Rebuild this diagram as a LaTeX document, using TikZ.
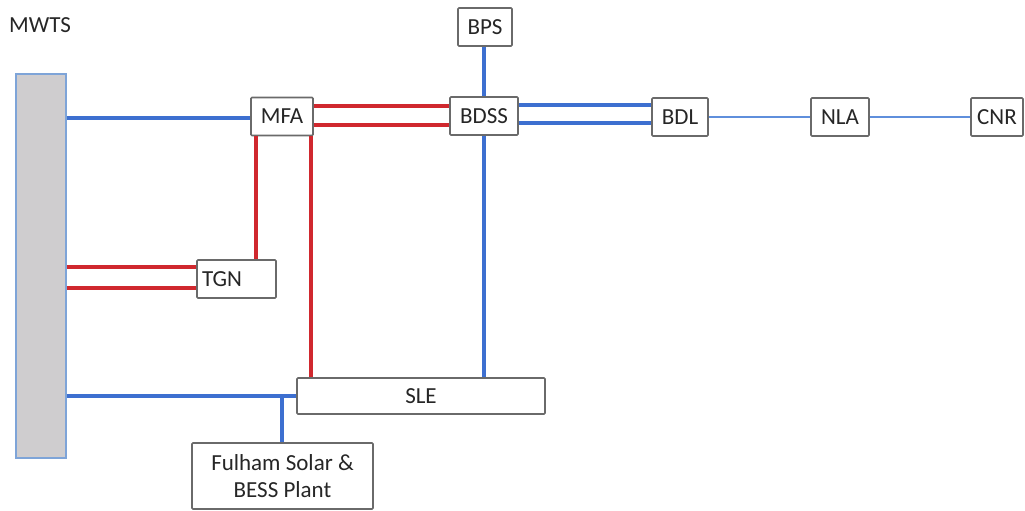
\documentclass[tikz,border=0pt]{standalone}
\usepackage{fontspec}
\setmainfont{Carlito}
\definecolor{lblue}{HTML}{3D6FD0}
\definecolor{tblue}{HTML}{5F8FDC}
\definecolor{lred}{HTML}{D0282E}
\definecolor{boxgray}{HTML}{6A6A6A}
\definecolor{barfill}{HTML}{CFCDCF}
\definecolor{barline}{HTML}{7EA4D8}
\definecolor{txt}{HTML}{262626}
\tikzset{
  box/.style={draw=boxgray, line width=1.7pt, fill=white, rounded corners=1pt,
    minimum height=38pt, inner sep=0pt, text=txt,
    font=\fontsize{23}{28}\selectfont},
  bluew/.style={draw=lblue, line width=3.2pt},
  bluethin/.style={draw=tblue, line width=2.4pt},
  redw/.style={draw=lred, line width=3.2pt},
}
\begin{document}
\begin{tikzpicture}[x=1pt,y=-1pt]
\useasboundingbox (0,0) rectangle (1025,511);
% MWTS bar
\node[draw=barline, fill=barfill, line width=1.3pt, minimum width=50pt, minimum height=384pt, inner sep=0pt] (mwts) at (41,266) {};
\node[text=txt, font=\fontsize{23}{28}\selectfont, anchor=west, inner sep=0pt] (mwtslbl) at (9,25) {MWTS};
% boxes
\node[box, minimum width=62pt] (mfa) at (282,116.5) {MFA};
\node[box, minimum width=54pt] (bps) at (485,27) {BPS};
\node[box, minimum width=68pt] (bdss) at (484,116) {BDSS};
\node[box, minimum width=56pt] (bdl) at (680,117) {BDL};
\node[box, minimum width=58pt] (nla) at (840,117) {NLA};
\node[box, minimum width=52pt] (cnr) at (997,117) {CNR};
\node[box, minimum width=79pt, text width=69pt, align=left, inner xsep=0pt] (tgn) at (236.5,279) {TGN};
\node[box, minimum width=248pt, minimum height=36pt] (sle) at (421,396) {SLE};
\node[box, minimum width=181pt, minimum height=66pt, align=center] (fulham) at (282.5,476) {Fulham Solar \&\\[-1pt]BESS Plant};
% blue connections
\draw[bluew] (mwts.east |- 0,118) -- (mfa.west |- 0,118);
\draw[bluew] (bps.south -| 484,0) -- (bdss.north -| 484,0);
\draw[bluew] (bdss.south -| 484,0) -- (sle.north -| 484,0);
\draw[bluew] (bdss.east |- 0,105) -- (bdl.west |- 0,105);
\draw[bluew] (bdss.east |- 0,123) -- (bdl.west |- 0,123);
\draw[bluew] (mwts.east |- sle.west) -- (sle.west);
\coordinate (fj) at (282,396);
\draw[bluew] (fj) -- (fulham.north -| fj);
\draw[bluethin] (bdl.east) -- (nla.west);
\draw[bluethin] (nla.east) -- (cnr.west);
% red connections
\draw[redw] (mfa.east |- 0,106) -- (bdss.west |- 0,106);
\draw[redw] (mfa.east |- 0,125) -- (bdss.west |- 0,125);
\draw[redw] (mfa.south -| 256,0) -- (tgn.north -| 256,0);
\draw[redw] (mfa.south -| 311,0) -- (sle.north -| 311,0);
\draw[redw] (mwts.east |- 0,267) -- (tgn.west |- 0,267);
\draw[redw] (mwts.east |- 0,288) -- (tgn.west |- 0,288);
\end{tikzpicture}
\end{document}
